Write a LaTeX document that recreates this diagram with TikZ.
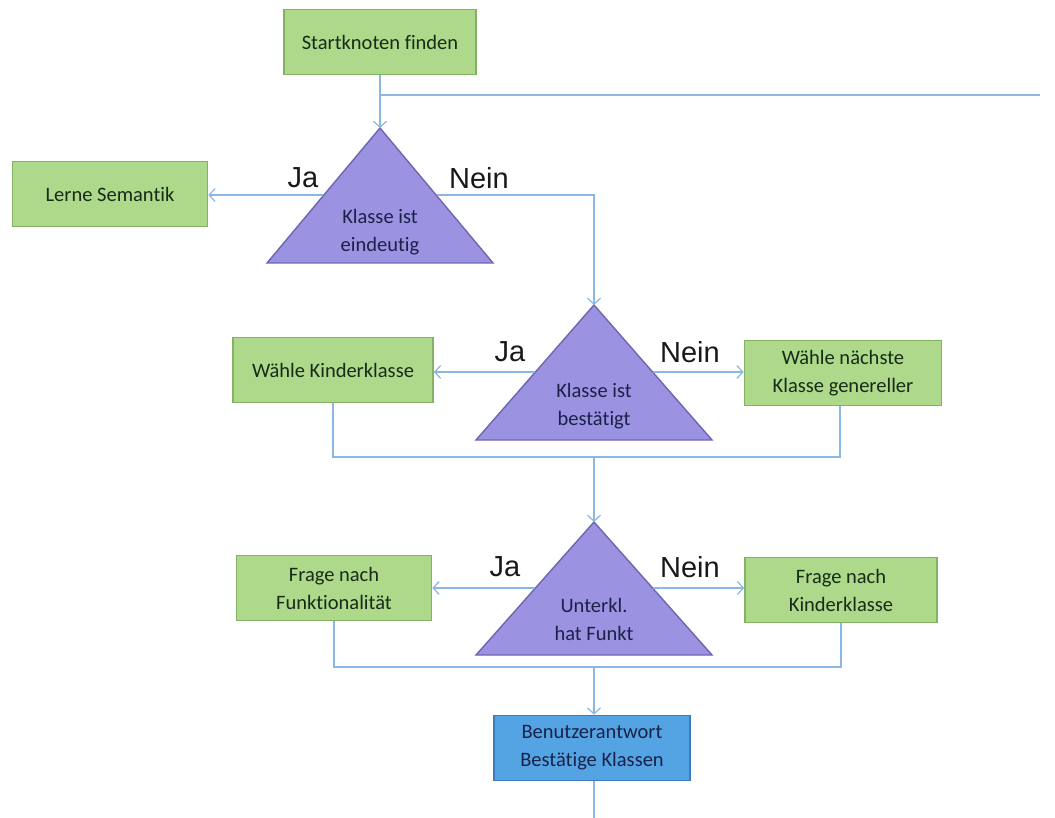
\documentclass[tikz,border=0pt]{standalone}
\usepackage{fontspec}
\setmainfont[Ligatures={NoCommon,TeX}]{Carlito}
\newfontfamily\labelfont{Liberation Sans}
\usetikzlibrary{arrows.meta}
\definecolor{boxgreen}{RGB}{174,216,138}
\definecolor{boxgreenline}{RGB}{132,178,100}
\definecolor{tripurple}{RGB}{156,146,226}
\definecolor{tripurpleline}{RGB}{110,100,178}
\definecolor{boxblue}{RGB}{84,164,228}
\definecolor{boxblueline}{RGB}{60,124,190}
\definecolor{flowline}{RGB}{140,182,228}
\definecolor{greentext}{RGB}{22,44,24}
\definecolor{navytext}{RGB}{26,34,72}
\begin{document}
\begin{tikzpicture}[x=1pt,y=-1pt,
  procbox/.style={draw=boxgreenline,line width=1.6pt,fill=boxgreen,
    minimum width=#1,minimum height=65pt,inner sep=0pt,align=center,
    text=greentext,font=\fontsize{20.5}{28}\selectfont},
  procbox/.default=196pt,
  answerbox/.style={procbox,draw=boxblueline,fill=boxblue,text=navytext},
  decision/.style={draw=tripurpleline,line width=1.4pt,fill=tripurple},
  dectext/.style={align=center,text=navytext,font=\fontsize{20.5}{28}\selectfont},
  branch/.style={font=\labelfont\fontsize{29}{30}\selectfont,text=black!90},
  flow/.style={draw=flowline,line width=1.4pt},
  flowarrow/.style={flow,-{Straight Barb[length=6pt,width=13pt,line width=1.2pt]}}]
\useasboundingbox (0,0) rectangle (1055,818);

% process boxes
\node[procbox=192pt] (start) at (380,42) {Startknoten finden};
\node[procbox=195pt] (lerne) at (110,194) {Lerne Semantik};
\node[procbox=200pt] (kind1) at (333,370) {Wähle Kinderklasse};
\node[procbox=197pt] (general) at (843,373) {Wähle nächste\\Klasse genereller};
\node[procbox=195pt] (funkt) at (334,588) {Frage nach\\Funktionalität};
\node[procbox=192pt] (kind2) at (841,590) {Frage nach\\Kinderklasse};
\node[answerbox] (antwort) at (592,748) {Benutzerantwort\\Bestätige Klassen};

% decision triangles: apex, left and right base corners
\coordinate (d1top) at (380,128);
\coordinate (d2top) at (594,305);
\coordinate (d3top) at (594,522);
\draw[decision] (d1top) -- (493,263) -- (267,263) -- cycle;
\draw[decision] (d2top) -- (712,440) -- (476,440) -- cycle;
\draw[decision] (d3top) -- (712,655) -- (476,655) -- cycle;
\node[dectext] (d1) at (380,232) {Klasse ist\\eindeutig};
\node[dectext] (d2) at (594,406) {Klasse ist\\bestätigt};
\node[dectext] (d3) at (594,619) {Unterkl.\\hat Funkt};

% points where the branch lines leave the triangle sides
\coordinate (d1left) at (323,195);
\coordinate (d1right) at (437,195);
\coordinate (d2left) at (535,372);
\coordinate (d2right) at (653,372);
\coordinate (d3left) at (535,588);
\coordinate (d3right) at (653,588);

% branch labels
\node[branch] (ja1) at (303,178) {Ja};
\node[branch] (nein1) at (479,178) {Nein};
\node[branch] (ja2) at (510,352) {Ja};
\node[branch] (nein2) at (690,352) {Nein};
\node[branch] (ja3) at (505,567) {Ja};
\node[branch] (nein3) at (690,567) {Nein};

% junctions
\coordinate (tap) at (380,95);
\coordinate (tapend) at (1040,95);
\coordinate (join1) at (594,457);
\coordinate (join2) at (594,667);
\coordinate (bottom) at (594,818);

% connectors
\draw[flowarrow] (start.south) -- (d1top);
\draw[flow] (tap) -- (tapend);
\draw[flowarrow] (d1left) -- (d1left -| lerne.east);
\draw[flowarrow] (d1right) -| (d2top);
\draw[flowarrow] (d2left) -- (d2left -| kind1.east);
\draw[flowarrow] (d2right) -- (d2right -| general.west);
\draw[flow] (kind1.south) |- (join1) -| ([xshift=-3pt]general.south);
\draw[flowarrow] (join1) -- (d3top);
\draw[flowarrow] (d3left) -- (d3left -| funkt.east);
\draw[flowarrow] (d3right) -- (d3right -| kind2.west);
\draw[flow] (funkt.south) |- (join2) -| (kind2.south);
\draw[flowarrow] (join2) -- (antwort.north -| join2);
\draw[flow] (antwort.south -| bottom) -- (bottom);
\end{tikzpicture}
\end{document}
